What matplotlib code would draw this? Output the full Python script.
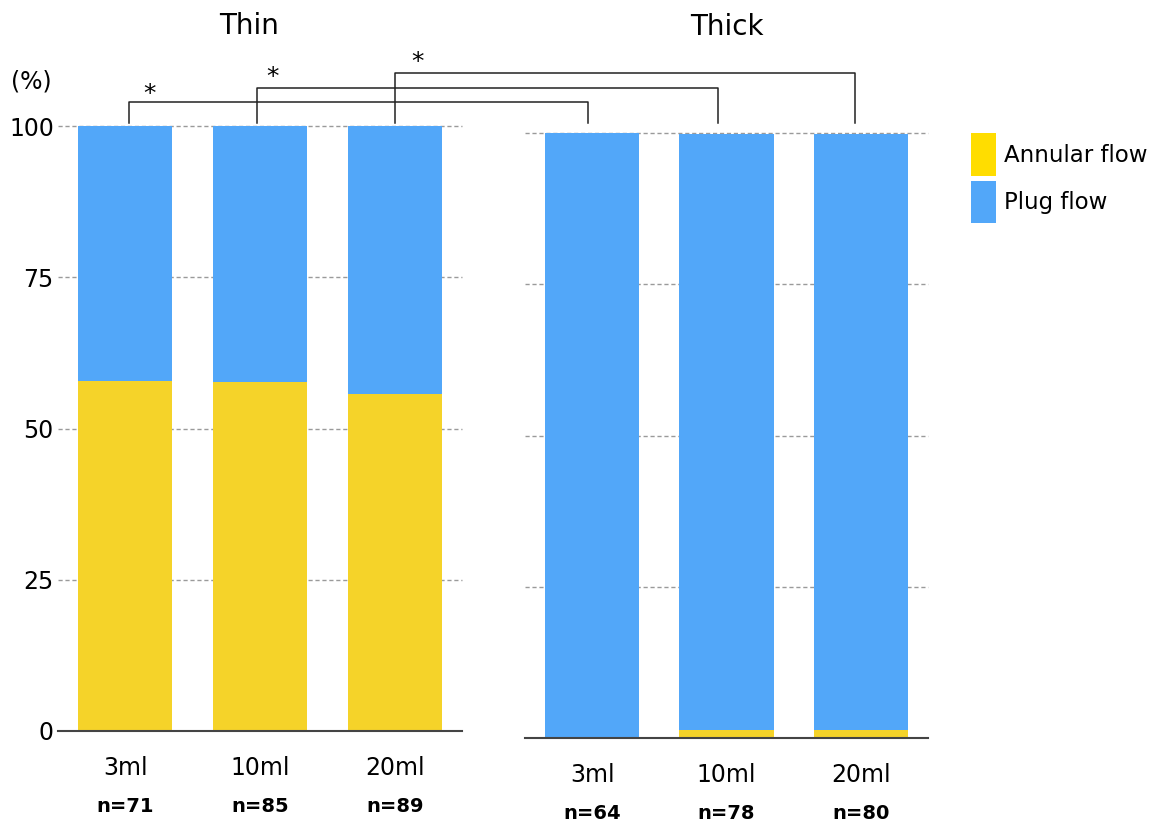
import numpy as np
import matplotlib.pyplot as plt
from matplotlib.patches import Patch

cats = ["3ml", "10ml", "20ml"]
thin_n = ["n=71", "n=85", "n=89"]
thick_n = ["n=64", "n=78", "n=80"]
thin_annular = [57.8, 57.7, 55.7]
thick_annular = [0.0, 1.3, 1.3]
thin_total = [100, 100, 100]
thick_total = [100, 99.8, 99.8]

c_ann = "#F5D329"
c_plug = "#52A7F9"
c_grid = "#9a9a9a"

plt.rcParams['font.family'] = ['DejaVu Sans']

fig = plt.figure(figsize=(11.53, 8.26), dpi=100)
axL = fig.add_axes([58/1153, 95/826, 404/1153, 605/826])
axR = fig.add_axes([525/1153, 88/826, 403/1153, 605/826])

x = np.arange(3)
w = 0.70

for ax, ann, tot, nlab, title in [(axL, thin_annular, thin_total, thin_n, "Thin"),
                                  (axR, thick_annular, thick_total, thick_n, "Thick")]:
    plug = [t - a for t, a in zip(tot, ann)]
    ax.bar(x, ann, w, color=c_ann, zorder=2)
    ax.bar(x, plug, w, bottom=ann, color=c_plug, zorder=2)
    ax.set_xlim(-0.5, 2.5)
    ax.set_ylim(0, 100)
    for g in [25, 50, 75, 100]:
        ax.axhline(g, color=c_grid, lw=1, ls=(0, (3, 2)), zorder=1, clip_on=False)
    for s in ["top", "right", "left"]:
        ax.spines[s].set_visible(False)
    ax.spines["bottom"].set_color("#444444")
    ax.spines["bottom"].set_linewidth(1.5)
    ax.spines["bottom"].set_zorder(3)
    ax.set_xticks(x)
    ax.set_xticklabels(cats, fontsize=17)
    ax.tick_params(axis="x", length=0, pad=18)
    for i, t in enumerate(nlab):
        ax.text(x[i], -12.4, t, ha="center", va="center", fontsize=14, fontweight="bold")
    ax.text(0.5, 1.0, title, transform=ax.transAxes, ha="center", va="center",
            fontsize=20)

# title positions
axL.texts[-1].set_position((0.472, 1.166))
axR.texts[-1].set_position((0.502, 1.175))

axL.set_yticks([0, 25, 50, 75, 100])
axL.tick_params(axis="y", length=0, labelsize=17, pad=3)
axR.set_yticks([])
axL.text(-0.7, 107.3, "(%)", ha="center", va="center", fontsize=17)

# significance brackets: thin bar -> thick bar
thin_bx = [0.03, -0.02, 0.0]
thick_bx = [-0.03, -0.06, -0.04]
br_y = [104.0, 106.3, 108.8]
star_dx = [0.18, 0.09, 0.17]
star_y = [105.3, 108.1, 110.6]
for i in range(3):
    disp = axR.transData.transform((x[i] + thick_bx[i], 0))
    xr = axL.transData.inverted().transform(disp)[0]
    xl = x[i] + thin_bx[i]
    axL.plot([xl, xl, xr, xr], [100.5, br_y[i], br_y[i], 100.5],
             color="#222222", lw=1.1, clip_on=False, zorder=4)
    axL.text(x[i] + star_dx[i], star_y[i], "*", ha="center", va="center", fontsize=18)

handles = [Patch(facecolor="#FFDD00", label="Annular flow"),
           Patch(facecolor=c_plug, label="Plug flow")]
fig.legend(handles=handles, loc="upper left", bbox_to_anchor=(962/1153, 1 - 124/826),
           frameon=False, fontsize=16.5, handlelength=1.1, handleheight=2.5,
           handletextpad=0.35, labelspacing=0.2, borderaxespad=0)

fig.savefig("out.png", dpi=100)
